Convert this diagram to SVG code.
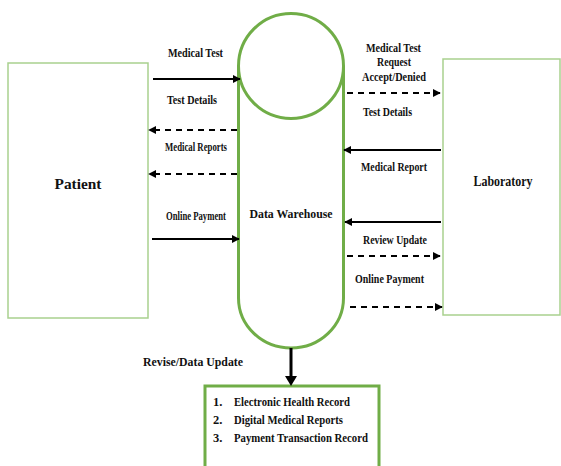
<svg xmlns="http://www.w3.org/2000/svg" width="561" height="466" viewBox="0 0 561 466">
  <style>
    .lbl { font-family: "Liberation Serif", serif; font-weight: 700; fill: #111; }
    .ext { fill: #fff; stroke: #a9d18e; stroke-width: 1.5; }
    .store { fill: none; stroke: #70ad47; stroke-width: 3; }
    .solid { stroke: #000; stroke-width: 2; fill: none; marker-end: url(#head); }
    .dash { stroke: #000; stroke-width: 2; fill: none; stroke-dasharray: 6 5; marker-end: url(#head); }
  </style>
  <defs>
    <marker id="head" viewBox="0 0 10 10" refX="9" refY="5" markerWidth="4" markerHeight="4" orient="auto" markerUnits="strokeWidth">
      <path d="M0,0 L10,5 L0,10 Z" fill="#000"/>
    </marker>
  </defs>
  <rect width="561" height="466" fill="#fff"/>

  <!-- external entities -->
  <g id="patient">
    <rect class="ext" x="8" y="63" width="140" height="255"/>
    <text class="lbl" x="78" y="189" font-size="15" text-anchor="middle" textLength="47" lengthAdjust="spacingAndGlyphs">Patient</text>
  </g>
  <g id="laboratory">
    <rect class="ext" x="443" y="59" width="117" height="256"/>
    <text class="lbl" x="503" y="186" font-size="15" text-anchor="middle" textLength="59" lengthAdjust="spacingAndGlyphs">Laboratory</text>
  </g>

  <!-- data store -->
  <g id="data-warehouse">
    <circle class="store" cx="291" cy="66" r="52.5"/>
    <path class="store" d="M238.5,66 V298 A52.5,50 0 0 0 343.5,298 V66"/>
    <text class="lbl" x="291" y="218" font-size="13" text-anchor="middle" textLength="83" lengthAdjust="spacingAndGlyphs">Data Warehouse</text>
  </g>

  <!-- records -->
  <g id="records">
    <rect class="store" x="205" y="386" width="174" height="90"/>
    <text class="lbl" font-size="12.5" x="213" y="406">1.</text>
    <text class="lbl" font-size="12.5" x="213" y="424">2.</text>
    <text class="lbl" font-size="12.5" x="213" y="442">3.</text>
    <text class="lbl" font-size="12.5" x="234" y="406" textLength="116" lengthAdjust="spacingAndGlyphs">Electronic Health Record</text>
    <text class="lbl" font-size="12.5" x="234" y="424" textLength="109" lengthAdjust="spacingAndGlyphs">Digital Medical Reports</text>
    <text class="lbl" font-size="12.5" x="234" y="442" textLength="134" lengthAdjust="spacingAndGlyphs">Payment Transaction Record</text>
  </g>

  <!-- connectors -->
  <g id="connectors">
    <line class="solid" x1="153" y1="79" x2="240" y2="79"/>
    <line class="dash" x1="237" y1="130" x2="149" y2="130"/>
    <line class="dash" x1="237" y1="174" x2="149" y2="174"/>
    <line class="solid" x1="152" y1="239" x2="239" y2="239"/>

    <line class="dash" x1="347" y1="93" x2="440" y2="93"/>
    <line class="solid" x1="441" y1="150" x2="344" y2="150"/>
    <line class="solid" x1="441" y1="222" x2="345" y2="222"/>
    <line class="dash" x1="347" y1="256" x2="440" y2="256"/>
    <line class="dash" x1="350" y1="307" x2="442" y2="307"/>

    <line x1="291" y1="348" x2="291" y2="378" stroke="#000" stroke-width="3"/>
    <path d="M285,376 L297,376 L291,386 Z" fill="#000"/>
  </g>

  <!-- flow labels -->
  <g id="flow-labels">
    <text class="lbl" font-size="12.5" x="195.5" y="57" text-anchor="middle" textLength="55" lengthAdjust="spacingAndGlyphs">Medical Test</text>
    <text class="lbl" font-size="12.5" x="192" y="104" text-anchor="middle" textLength="50" lengthAdjust="spacingAndGlyphs">Test Details</text>
    <text class="lbl" font-size="11.5" x="196" y="151" text-anchor="middle" textLength="62" lengthAdjust="spacingAndGlyphs">Medical Reports</text>
    <text class="lbl" font-size="11.5" x="196" y="220" text-anchor="middle" textLength="60" lengthAdjust="spacingAndGlyphs">Online Payment</text>

    <text class="lbl" font-size="12.5" x="393.5" y="52" text-anchor="middle" textLength="55" lengthAdjust="spacingAndGlyphs">Medical Test</text>
    <text class="lbl" font-size="12.5" x="394" y="66" text-anchor="middle" textLength="34" lengthAdjust="spacingAndGlyphs">Request</text>
    <text class="lbl" font-size="12.5" x="394" y="81" text-anchor="middle" textLength="64" lengthAdjust="spacingAndGlyphs">Accept/Denied</text>
    <text class="lbl" font-size="12.5" x="387.5" y="116" text-anchor="middle" textLength="49" lengthAdjust="spacingAndGlyphs">Test Details</text>
    <text class="lbl" font-size="12.5" x="394" y="171" text-anchor="middle" textLength="66" lengthAdjust="spacingAndGlyphs">Medical Report</text>
    <text class="lbl" font-size="12.5" x="395" y="244" text-anchor="middle" textLength="64" lengthAdjust="spacingAndGlyphs">Review Update</text>
    <text class="lbl" font-size="12.5" x="389.5" y="283" text-anchor="middle" textLength="69" lengthAdjust="spacingAndGlyphs">Online Payment</text>

    <text class="lbl" font-size="13.5" x="143" y="366" textLength="100" lengthAdjust="spacingAndGlyphs">Revise/Data Update</text>
  </g>
</svg>
